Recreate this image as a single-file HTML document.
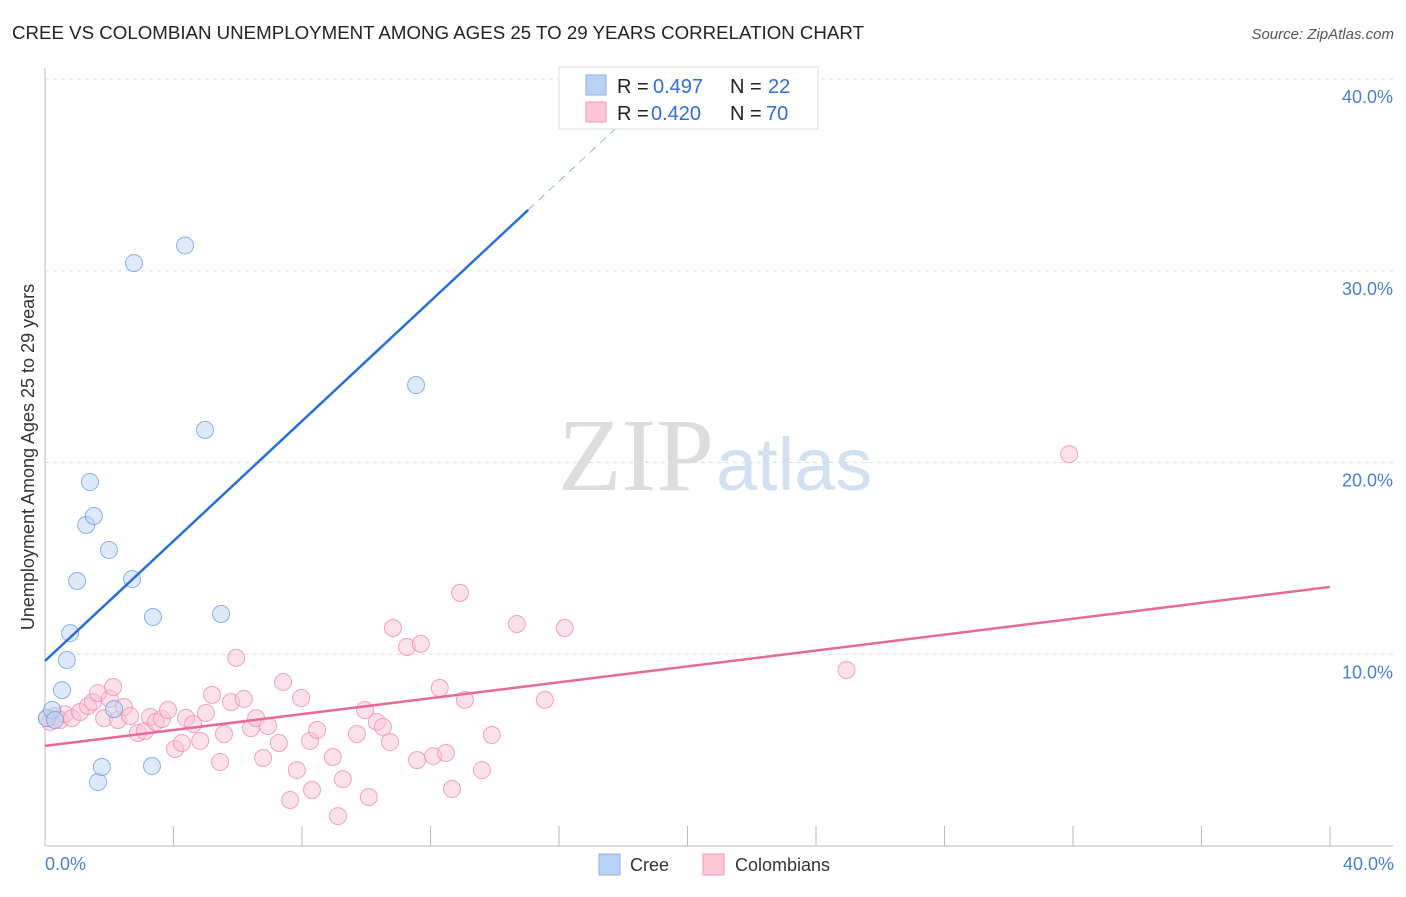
<!DOCTYPE html>
<html><head><meta charset="utf-8"><style>
body{margin:0;background:#fff;font-family:"Liberation Sans",sans-serif}
</style></head><body>
<svg id="c" width="1406" height="892" xmlns="http://www.w3.org/2000/svg" style="font-family:'Liberation Sans',sans-serif">
<text x="12" y="39" font-size="18" fill="#222" textLength="852" lengthAdjust="spacingAndGlyphs">CREE VS COLOMBIAN UNEMPLOYMENT AMONG AGES 25 TO 29 YEARS CORRELATION CHART</text>
<text x="1394" y="39" font-size="15" fill="#555" font-style="italic" text-anchor="end">Source: ZipAtlas.com</text>
<text x="714" y="490" font-size="104" fill="#ddd" text-anchor="end" font-family="Liberation Serif">ZIP</text>
<text x="716" y="490" font-size="74" fill="#d3e0f2">atlas</text>
<g id="grid"></g><g id="pts"></g><g id="lines"></g>
<text transform="translate(34,457) rotate(-90)" font-size="18" fill="#333" text-anchor="middle">Unemployment Among Ages 25 to 29 years</text>
<text x="45" y="870" font-size="18" fill="#4a7fd4">0.0%</text>
<text x="1394" y="870" font-size="18" fill="#4a7fd4" text-anchor="end">40.0%</text>
<g>
<rect x="599" y="854" width="21" height="21" fill="#b8d2f5" stroke="#8fb3e6"/>
<text x="630" y="871" font-size="18" fill="#333">Cree</text>
<rect x="703" y="854" width="21" height="21" fill="#fcc8d8" stroke="#f09ab6"/>
<text x="735" y="871" font-size="18" fill="#333">Colombians</text>
</g>
<g font-size="20">
<rect x="559" y="67" width="259" height="62" fill="#fff" stroke="#ddd"/>
<rect x="586" y="75" width="20" height="20" fill="#b8d2f5" stroke="#8fb3e6"/>
<rect x="586" y="102" width="20" height="20" fill="#fcc8d8" stroke="#f09ab6"/>
<text x="617" y="93" fill="#222">R =</text><text x="653" y="93" fill="#2f6fd6">0.497</text>
<text x="730" y="93" fill="#222">N =</text><text x="768" y="93" fill="#2f6fd6">22</text>
<text x="617" y="120" fill="#222">R =</text><text x="651" y="120" fill="#2f6fd6">0.420</text>
<text x="730" y="120" fill="#222">N =</text><text x="766" y="120" fill="#2f6fd6">70</text>
</g>
</svg>
<script>
const yTicks=[10,20,30,40];
const yTickLabels=["10.0%","20.0%","30.0%","40.0%"];
const xTicks=[4,8,12,16,20,24,28,32,36,40];
const creeX=[0.06,0.22,0.53,0.68,0.78,1.00,1.28,1.40,1.52,1.65,1.77,1.99,2.15,2.71,2.77,3.33,3.36,4.36,4.98,5.48,11.55,0.31];
const creeY=[6.67,7.09,8.13,9.70,11.10,13.82,16.74,18.98,17.21,3.34,4.12,15.44,7.14,13.92,30.40,4.17,11.94,31.32,21.70,12.10,24.04,6.57];
const colX=[0.06,0.16,0.31,0.47,0.62,0.84,1.09,1.34,1.49,1.65,1.84,2.02,2.12,2.27,2.46,2.65,2.89,3.11,3.27,3.45,3.64,3.83,4.05,4.26,4.39,4.61,4.83,5.01,5.20,5.45,5.57,5.79,5.95,6.19,6.41,6.57,6.79,6.94,7.28,7.41,7.63,7.84,7.97,8.25,8.31,8.47,8.96,9.12,9.27,9.71,9.96,10.08,10.33,10.52,10.74,10.83,11.27,11.58,11.70,12.08,12.29,12.48,12.67,12.92,13.07,13.60,13.91,14.69,15.56,16.18];
const colY=[6.67,6.47,6.78,6.57,6.88,6.67,6.99,7.30,7.51,7.98,6.67,7.67,8.29,6.57,7.25,6.78,5.89,5.99,6.73,6.47,6.62,7.09,5.06,5.37,6.68,6.36,5.48,6.94,7.88,4.38,5.84,7.51,9.81,7.67,6.15,6.67,4.59,6.26,5.37,8.55,2.40,3.96,7.72,5.48,2.92,6.05,4.64,1.56,3.49,5.84,7.09,2.55,6.47,6.21,5.42,11.37,10.38,4.48,10.54,4.69,8.24,4.85,2.97,13.20,7.62,3.96,5.79,11.58,7.62,11.37];
const colX2=[24.95,31.88];
const colY2=[9.18,20.44];
const creeLine=[[0,9.65],[15.04,33.17]];
const creeDash=[[15.04,33.17],[18.2,38.1]];
const colLine=[[0,5.22],[40,13.51]];
const NS="http://www.w3.org/2000/svg";
const X=v=>45+v/40*1285, Y=v=>846-v/10*191.75;
function mk(t,a,p){const e=document.createElementNS(NS,t);for(const k in a)e.setAttribute(k,a[k]);p.appendChild(e);return e;}
const g=document.getElementById('grid');
yTicks.forEach((t,i)=>{
 const l=mk('line',{x1:45,x2:1393,y1:Y(t),y2:Y(t),stroke:'#ddd','stroke-dasharray':'4,4'},g);
 
 
 const tx=mk('text',{x:1393,y:Y(t)+24,'font-size':18,fill:'#4a7fd4','text-anchor':'end'},g);
 tx.textContent=yTickLabels[i];
 
 
});
const ax=mk('line',{x1:45,x2:45,y1:68,y2:846,stroke:'#bbb'},g);


const bx=mk('line',{x1:45,x2:1393,y1:846,y2:846,stroke:'#bbb'},g);


xTicks.forEach(t=>{
 const l=mk('line',{x1:X(t),x2:X(t),y1:826,y2:846,stroke:'#bbb'},g);
 
 
});
const p=document.getElementById('pts');
function dots(xs,ys,fill,stroke,name){xs.forEach((x,i)=>{
 const c=mk('circle',{cx:X(x),cy:Y(ys[i]),r:8.5,fill:fill,stroke:stroke,'stroke-width':1,'fill-opacity':0.5,'stroke-opacity':0.8},p);
 
 
});}
dots(colX,colY,'#fbc3d5','#ec8fb0','colombians-point');
dots(colX2,colY2,'#fbc3d5','#ec8fb0','colombians-point');
dots(creeX,creeY,'#bcd5f5','#6e9fe0','cree-point');
const L=document.getElementById('lines');
function ln(a,col,dash,name){const e=mk('line',{x1:X(a[0][0]),y1:Y(a[0][1]),x2:X(a[1][0]),y2:Y(a[1][1]),stroke:col,'stroke-width':dash?1:2.5},L);
 if(dash)e.setAttribute('stroke-dasharray','8,6');
 
 }
ln(creeLine,'#2a6fd6',false,'cree-trendline');
ln(creeDash,'#8fb3e6',true,'cree-trendline-extension');
ln(colLine,'#e8689a',false,'colombians-trendline');
</script>
</body></html>
